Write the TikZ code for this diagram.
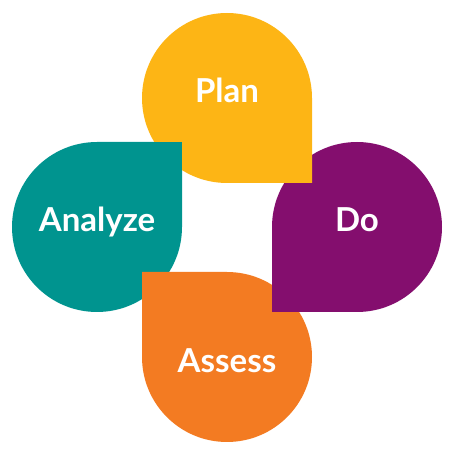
\documentclass[tikz,border=0pt]{standalone}
\usepackage{fontspec}
\setmainfont{Lato}
\definecolor{planyellow}{RGB}{253,181,21}
\definecolor{doviolet}{RGB}{132,14,110}
\definecolor{assessorange}{RGB}{243,123,34}
\definecolor{analyzeteal}{RGB}{0,148,143}
\tikzset{
  label text/.style={text=white, font=\fontsize{33}{36}\selectfont\bfseries, anchor=base, inner sep=0pt}
}
\begin{document}
\begin{tikzpicture}[x=1pt, y=1pt]
	\useasboundingbox (0,0) rectangle (450,450);
	%%% Petali (cerchio con un angolo retto)
	\fill[analyzeteal] (97,223) ++(90:85) arc[start angle=90, delta angle=270, radius=85] -- ++(90:85) -- cycle;
	\fill[assessorange] (227,93) ++(180:85) arc[start angle=180, delta angle=270, radius=85] -- ++(180:85) -- cycle;
	\fill[doviolet] (357,223) ++(270:85) arc[start angle=270, delta angle=270, radius=85] -- ++(270:85) -- cycle;
	\fill[planyellow] (227,352) ++(0:85) arc[start angle=0, delta angle=270, radius=85] -- ++(0:85) -- cycle;
	%%% Angolo di Analyze sopra Plan
	\fill[analyzeteal] (97,223) rectangle (182,308);
	%%% Etichette
	\node[label text] (plan) at (227,347) {Plan};
	\node[label text] (do) at (357,218) {Do};
	\node[label text] (assess) at (227,77) {Assess};
	\node[label text] (analyze) at (97,218) {Analyze};
\end{tikzpicture}
\end{document}
